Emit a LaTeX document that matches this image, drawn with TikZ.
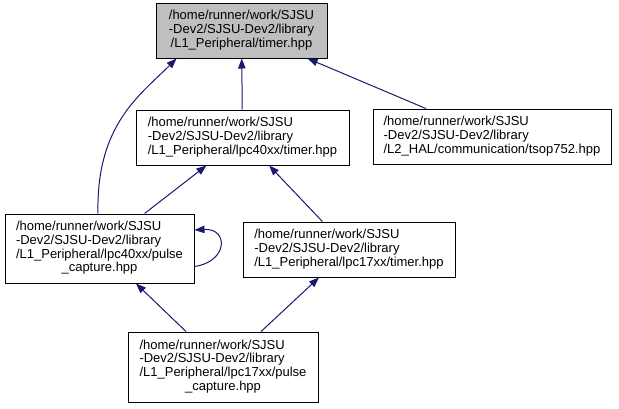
\documentclass[tikz,border=0pt]{standalone}
\usepackage{fontspec}
\setmainfont{Liberation Sans}
\usetikzlibrary{arrows.meta,calc}
\definecolor{edgeblue}{HTML}{191970}
\definecolor{topgray}{HTML}{BFBFBF}
\begin{document}
\begin{tikzpicture}[x=0.75pt,y=-0.75pt,
  box/.style={draw=black,line width=0.75pt,fill=white,inner sep=0pt,
    font=\fontsize{9.75}{10.35}\selectfont},
  edge/.style={draw=edgeblue,line width=0.75pt,
    -{Triangle[length=7.5pt,width=5.6pt]}}]
\fill[white] (0,0) rectangle (619,408);
\useasboundingbox (0,0) rectangle (619,408);

\node[box,fill=topgray,minimum width=128.25pt,minimum height=41.25pt] (top) at (241.5,30.5)
  {\begin{tabular}{@{}l@{}}/home/runner/work/SJSU\\-Dev2/SJSU-Dev2/library\\\multicolumn{1}{@{}c@{}}{/L1\_Peripheral/timer.hpp}\end{tabular}};
\node[box,minimum width=159.75pt,minimum height=41.25pt] (lpc40) at (242.5,137.5)
  {\begin{tabular}{@{}l@{}}/home/runner/work/SJSU\\-Dev2/SJSU-Dev2/library\\\multicolumn{1}{@{}c@{}}{/L1\_Peripheral/lpc40xx/timer.hpp}\end{tabular}};
\node[box,minimum width=178.5pt,minimum height=41.25pt] (tsop) at (492,136.5)
  {\begin{tabular}{@{}l@{}}/home/runner/work/SJSU\\-Dev2/SJSU-Dev2/library\\\multicolumn{1}{@{}c@{}}{/L2\_HAL/communication/tsop752.hpp}\end{tabular}};
\node[box,minimum width=141.75pt,minimum height=51.75pt] (pulse40) at (99.5,248.5)
  {\begin{tabular}{@{}l@{}}/home/runner/work/SJSU\\-Dev2/SJSU-Dev2/library\\/L1\_Peripheral/lpc40xx/pulse\\\multicolumn{1}{@{}c@{}}{\_capture.hpp}\end{tabular}};
\node[box,minimum width=159pt,minimum height=41.25pt] (lpc17) at (349,249.5)
  {\begin{tabular}{@{}l@{}}/home/runner/work/SJSU\\-Dev2/SJSU-Dev2/library\\\multicolumn{1}{@{}c@{}}{/L1\_Peripheral/lpc17xx/timer.hpp}\end{tabular}};
\node[box,minimum width=142.5pt,minimum height=52.5pt] (pulse17) at (223,367)
  {\begin{tabular}{@{}l@{}}/home/runner/work/SJSU\\-Dev2/SJSU-Dev2/library\\/L1\_Peripheral/lpc17xx/pulse\\\multicolumn{1}{@{}c@{}}{\_capture.hpp}\end{tabular}};

\draw[edge] (lpc40) -- (top);
\draw[edge] (tsop) -- (top);
\draw[edge] (pulse40) -- (lpc40);
\draw[edge] (lpc17) -- (lpc40);
\draw[edge] (pulse17) -- (pulse40);
\draw[edge] (pulse17) -- (lpc17);
\draw[edge] ($(pulse40.north)+(-1.5,0)$) .. controls (96,125) and (140,95) .. ($(top.south west)+(21,0)$);
\draw[edge] ($(pulse40.east)+(0,18)$) .. controls +(34,-5) and +(34,-2) .. ($(pulse40.east)+(0,-18.5)$);
\end{tikzpicture}
\end{document}
